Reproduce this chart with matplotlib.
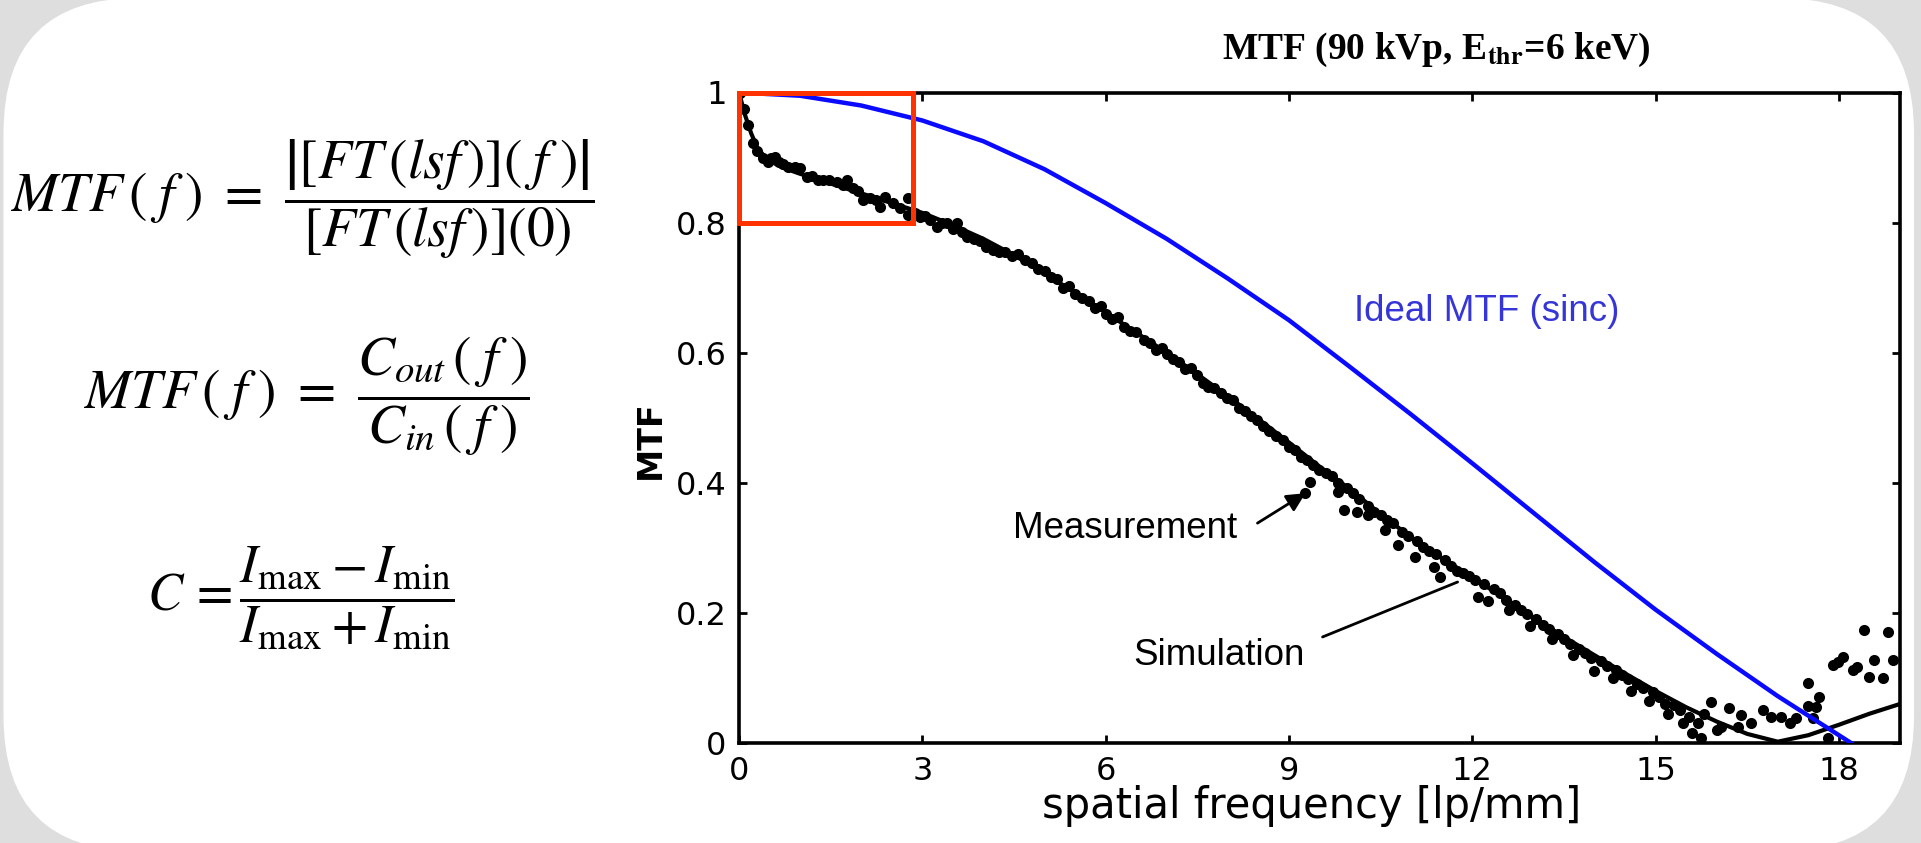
import matplotlib
matplotlib.use("Agg")
import matplotlib.pyplot as plt
from matplotlib.patches import FancyBboxPatch, Rectangle

# ideal sinc MTF
ideal_f = [0, 1, 2, 3, 4, 5, 6, 7, 8, 9, 10, 11, 12, 13, 14, 15, 16, 17, 18, 18.2]
ideal_v = [1.0, 0.995, 0.98, 0.957, 0.925, 0.882, 0.83, 0.775, 0.714, 0.65, 0.578,
           0.505, 0.43, 0.354, 0.278, 0.205, 0.137, 0.072, 0.012, 0.0]

# simulation (black line)
sim_f = [0, 0.1, 0.2, 0.3, 0.45, 0.7, 1.0, 1.5, 2.0, 2.5, 3.0, 3.5, 4.0, 4.5, 5.0,
         5.5, 6.0, 6.5, 7.0, 7.5, 8.0, 8.5, 9.0, 9.5, 10.0, 10.5, 11.0, 11.5, 12.0,
         12.5, 13.0, 13.5, 14.0, 14.5, 15.0, 15.5, 16.0, 16.5, 17.0, 17.5, 18.0,
         18.5, 19.0]
sim_v = [1.0, 0.965, 0.937, 0.915, 0.898, 0.885, 0.875, 0.86, 0.845, 0.83, 0.815,
         0.796, 0.775, 0.75, 0.722, 0.692, 0.662, 0.631, 0.6, 0.567, 0.533, 0.498,
         0.462, 0.425, 0.39, 0.352, 0.316, 0.284, 0.255, 0.224, 0.193, 0.163, 0.135,
         0.107, 0.08, 0.055, 0.033, 0.014, 0.002, 0.012, 0.028, 0.045, 0.06]

# measurement (black dots)
meas_f = [0.02, 0.08, 0.15, 0.23, 0.3, 0.39, 0.47, 0.53, 0.59, 0.66, 0.72, 0.8, 0.92,
          1.0, 1.11, 1.2, 1.3, 1.38, 1.48, 1.6, 1.7, 1.77, 1.87, 1.95, 2.03, 2.15,
          2.24, 2.31, 2.39, 2.52, 2.64, 2.77, 2.77, 2.88, 2.96, 3.05, 3.13, 3.24,
          3.33, 3.41, 3.5, 3.57, 3.65, 3.73, 3.85, 3.95, 4.05, 4.16, 4.26, 4.36,
          4.47, 4.57,
          4.68, 4.8, 4.9, 5.0, 5.1, 5.2, 5.3, 5.4, 5.5, 5.62, 5.72, 5.82, 5.92, 6.0,
          6.1, 6.2, 6.3, 6.4, 6.5, 6.62, 6.72, 6.82, 6.92, 7.0, 7.1, 7.2, 7.3, 7.4,
          7.5, 7.6, 7.68, 7.78, 7.88, 7.98, 8.08, 8.18, 8.28, 8.38, 8.48,
          8.58, 8.68, 8.78, 8.9, 9.0, 9.1, 9.2, 9.3, 9.27, 9.35, 9.4, 9.5, 9.6, 9.7,
          9.8, 9.8, 9.9, 9.95, 10.05, 10.12, 10.15, 10.29, 10.3, 10.4, 10.5, 10.58,
          10.6, 10.7, 10.78, 10.85, 10.95, 11.07, 11.1, 11.2, 11.3, 11.37, 11.4,
          11.48, 11.55, 11.65, 11.75, 11.85, 11.95,
          12.05, 12.1, 12.2, 12.25, 12.35, 12.45, 12.55, 12.6, 12.7, 12.8, 12.9,
          12.95, 13.05, 13.15, 13.25, 13.3, 13.4, 13.5, 13.6, 13.65, 13.75, 13.85,
          13.95, 14.0, 14.1, 14.2, 14.3, 14.35, 14.45, 14.55, 14.6, 14.7, 14.8,
          14.9, 14.95, 15.05, 15.15, 15.2, 15.3, 15.4, 15.45, 15.55, 15.6, 15.7,
          15.75,
          15.8, 15.9, 16.0, 16.07, 16.2, 16.35, 16.4, 16.56, 16.76, 16.89, 17.05,
          17.2, 17.3, 17.49, 17.5, 17.58, 17.63, 17.67, 17.82, 17.9, 17.98, 18.07,
          18.23, 18.3, 18.41, 18.5, 18.58, 18.72, 18.8, 18.88]
meas_v = [1.0, 0.975, 0.95, 0.922, 0.91, 0.9, 0.893, 0.9, 0.901, 0.893, 0.89, 0.885,
          0.886, 0.884, 0.87, 0.872, 0.866, 0.865, 0.866, 0.862, 0.858, 0.866, 0.853,
          0.848, 0.835, 0.838, 0.834, 0.824, 0.839, 0.83, 0.822, 0.838, 0.812, 0.815,
          0.809, 0.81, 0.804, 0.793, 0.8, 0.8, 0.79, 0.8, 0.785, 0.778, 0.775, 0.771,
          0.762, 0.758, 0.755, 0.755, 0.748, 0.752,
          0.742, 0.738, 0.728, 0.725, 0.716, 0.714, 0.7, 0.703, 0.69, 0.684, 0.68,
          0.668, 0.672, 0.66, 0.652, 0.655, 0.64, 0.633, 0.632, 0.62, 0.615, 0.604,
          0.607, 0.598, 0.59, 0.585, 0.575, 0.576, 0.566, 0.553, 0.548, 0.545, 0.538,
          0.53, 0.528, 0.515, 0.51, 0.503, 0.496,
          0.488, 0.48, 0.472, 0.466, 0.455, 0.45, 0.44, 0.435, 0.384, 0.401, 0.428,
          0.42, 0.415, 0.41, 0.386, 0.4, 0.358, 0.392, 0.385, 0.355, 0.375, 0.35,
          0.365, 0.355, 0.35, 0.327, 0.343, 0.338, 0.304, 0.325, 0.318, 0.286, 0.31,
          0.302, 0.295, 0.27, 0.29, 0.255, 0.282, 0.272, 0.265, 0.262, 0.256,
          0.25, 0.225, 0.245, 0.218, 0.236, 0.23, 0.22, 0.205, 0.212, 0.205, 0.198,
          0.18, 0.19, 0.182, 0.176, 0.16, 0.168, 0.16, 0.152, 0.135, 0.145, 0.138,
          0.13, 0.11, 0.126, 0.118, 0.1, 0.112, 0.105, 0.098, 0.08, 0.09, 0.085,
          0.065, 0.078, 0.07, 0.06, 0.045, 0.058, 0.05, 0.03, 0.04, 0.015, 0.03,
          0.008,
          0.045, 0.063, 0.02, 0.025, 0.054, 0.025, 0.043, 0.03, 0.051, 0.04, 0.04,
          0.03, 0.038, 0.092, 0.057, 0.038, 0.055, 0.071, 0.008, 0.12, 0.125, 0.132,
          0.112, 0.117, 0.174, 0.101, 0.128, 0.1, 0.171, 0.128]

x_ticks = [0, 3, 6, 9, 12, 15, 18]
y_ticks = [0, 0.2, 0.4, 0.6, 0.8, 1]
y_tick_labels = ["0", "0.2", "0.4", "0.6", "0.8", "1"]

plt.rcParams["mathtext.fontset"] = "stix"

W, H = 19.21, 8.43
fig = plt.figure(figsize=(W, H), dpi=100, facecolor="#dedede")

# white rounded slide panel
panel = FancyBboxPatch((0.035, -0.08), 19.14 - 0.035, 8.44 + 0.01 + 0.08,
                       boxstyle="round,pad=0,rounding_size=1.35",
                       transform=fig.dpi_scale_trans, facecolor="white",
                       edgecolor="none", zorder=0)
fig.add_artist(panel)

# equations on the left
fig.text(10 / 1921, 1 - 199 / 843,
         r"$MTF\,(\;f\;)\ =\ \dfrac{\left|[FT\,(lsf\,)](\;f\;)\right|}{[FT\,(lsf\,)](0)}$",
         fontsize=40, ha="left", va="center")
fig.text(83 / 1921, 1 - 396 / 843,
         r"$MTF\,(\;f\;)\ =\ \dfrac{C_{out}\,(\;f\;)}{C_{in}\,(\;f\;)}$",
         fontsize=40, ha="left", va="center")
fig.text(147 / 1921, 1 - 598 / 843,
         r"$C\,=\dfrac{I_{\mathrm{max}}-I_{\mathrm{min}}}{I_{\mathrm{max}}+I_{\mathrm{min}}}$",
         fontsize=38, ha="left", va="center")

# plot
ax = fig.add_axes([739 / 1921, 100 / 843, 1161 / 1921, 650.5 / 843])
ax.set_facecolor("none")

ax.plot(sim_f, sim_v, color="black", lw=3.0, zorder=3)
ax.plot(meas_f, meas_v, "o", color="black", ms=8, mew=0, zorder=3)
ax.plot(ideal_f, ideal_v, color="#0a0aff", lw=3.2, zorder=4)

ax.add_patch(Rectangle((0, 0.8), 2.85, 0.2, fill=False, edgecolor="#ff3300",
                       lw=3.6, zorder=6, clip_on=False))

ax.set_xlim(0, 19)
ax.set_ylim(0, 1)
ax.set_xticks(x_ticks)
ax.set_yticks(y_ticks)
ax.set_yticklabels(y_tick_labels)
ax.tick_params(direction="in", length=6, width=2, top=True, right=True,
               labelsize=23, pad=9)
for s in ax.spines.values():
    s.set_linewidth(2.6)

ax.set_xlabel("spatial frequency [lp/mm]", fontsize=30)
ax.xaxis.set_label_coords(0.493, -0.097)
ax.xaxis.label.set_va("center")
ax.set_ylabel("MTF", fontsize=24, fontweight="bold")
ax.yaxis.set_label_coords(-0.076, 0.466)
ax.yaxis.label.set_va("center")

ax.text(10.07, 0.663, "Ideal MTF (sinc)", color="#3535d8", fontsize=26.5,
        family="Liberation Sans", va="center", ha="left")
ax.annotate("", xy=(9.27, 0.384), xytext=(8.485, 0.338),
            arrowprops=dict(arrowstyle="-|>", color="black", lw=2,
                            mutation_scale=28, shrinkA=0, shrinkB=0))
ax.text(4.49, 0.330, "Measurement", fontsize=26.5, family="Liberation Sans",
        va="center", ha="left")
ax.annotate("", xy=(11.76, 0.2475), xytext=(9.55, 0.163),
            arrowprops=dict(arrowstyle="-", color="black", lw=2,
                            shrinkA=0, shrinkB=0))
ax.text(6.45, 0.135, "Simulation", fontsize=26.5, family="Liberation Sans",
        va="center", ha="left")

fig.text(1436 / 1921, 1 - 59 / 843,
         r"MTF (90 kVp, E$_{\mathbf{thr}}$=6 keV)", fontsize=27,
         family="Liberation Serif", fontweight="bold", ha="center",
         va="baseline")

fig.savefig("out.png", dpi=100, facecolor=fig.get_facecolor())
